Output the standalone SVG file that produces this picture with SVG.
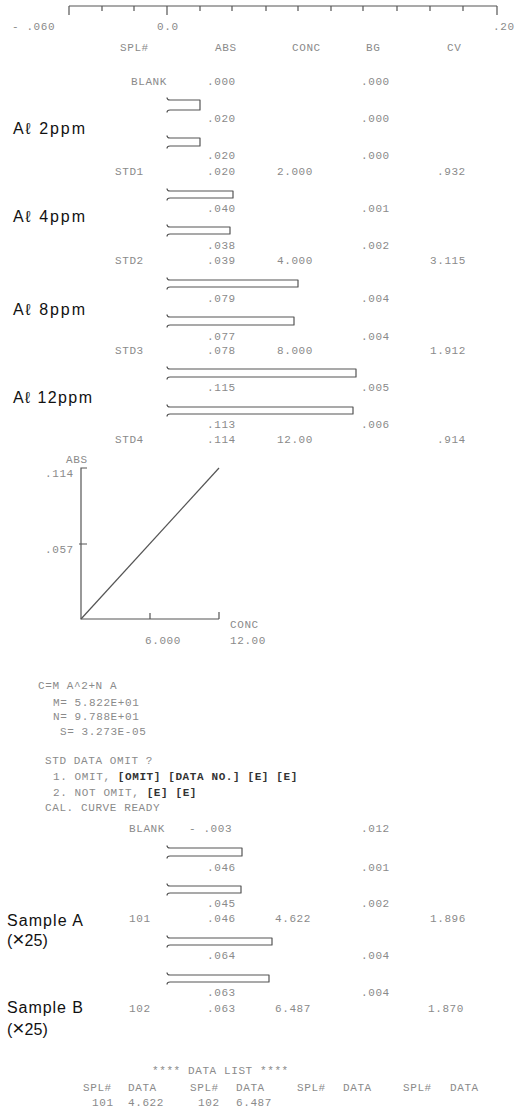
<svg xmlns="http://www.w3.org/2000/svg" width="519" height="1113" viewBox="0 0 519 1113">
<defs>
<style>
.m{font-family:"Liberation Mono","DejaVu Sans Mono",monospace;font-size:11px;letter-spacing:0.6px;fill:#8a8a8a}
.k{fill:#333;font-weight:bold}
.s{font-family:"Liberation Sans",Arial,sans-serif;font-size:16px;fill:#111}
.ln{fill:none;stroke:#555;stroke-width:1.2}
.bar{fill:none;stroke:#555;stroke-width:1.2;stroke-linejoin:round}
</style>
</defs>
<rect width="519" height="1113" fill="#fff"/>
<g id="axis">
<path class="ln" d="M69,6 H497 M69,6 V15 M497,6 V15 M167,6 V15 M102,6 V11 M134,6 V11 M200,6 V11 M232,6 V11 M266,6 V11 M298,6 V11 M331,6 V11 M363,6 V11 M397,6 V11 M430,6 V11 M463,6 V11"/>
<text class="m" x="12" y="30">- .060</text>
<text class="m" x="157" y="30">0.0</text>
<text class="m" x="493" y="30">.20</text>
</g>
<g id="header">
<text class="m" x="120" y="51" letter-spacing="2">SPL#</text>
<text class="m" x="215" y="51">ABS</text>
<text class="m" x="292" y="51">CONC</text>
<text class="m" x="366" y="51">BG</text>
<text class="m" x="447" y="51">CV</text>
</g>
<g id="bars">
<path class="bar" d="M167,97.5 Q167,100 170,100 H200 V110 H170 Q167,110 167,112.5"/>
<path class="bar" d="M167,135.5 Q167,138 170,138 H200 V146 H170 Q167,146 167,148.5"/>
<path class="bar" d="M167,188.5 Q167,191 170,191 H233 V198 H170 Q167,198 167,200.5"/>
<path class="bar" d="M167,224.5 Q167,227 170,227 H230 V234 H170 Q167,234 167,236.5"/>
<path class="bar" d="M167,277.5 Q167,280 170,280 H298 V287 H170 Q167,287 167,289.5"/>
<path class="bar" d="M167,314.5 Q167,317 170,317 H294 V325 H170 Q167,325 167,327.5"/>
<path class="bar" d="M167,366.5 Q167,369 170,369 H356 V377 H170 Q167,377 167,379.5"/>
<path class="bar" d="M167,404.5 Q167,407 170,407 H353 V414 H170 Q167,414 167,416.5"/>
<path class="bar" d="M167,845.5 Q167,848 170,848 H242 V856 H170 Q167,856 167,858.5"/>
<path class="bar" d="M167,883.5 Q167,886 170,886 H241 V893 H170 Q167,893 167,895.5"/>
<path class="bar" d="M167,935.5 Q167,938 170,938 H272 V945 H170 Q167,945 167,947.5"/>
<path class="bar" d="M167,972.5 Q167,975 170,975 H269 V982 H170 Q167,982 167,984.5"/>
</g>
<g id="standards">
<text class="m" x="131" y="85">BLANK</text><text class="m" x="207" y="85">.000</text><text class="m" x="361" y="85">.000</text>
<text class="m" x="207" y="122">.020</text><text class="m" x="361" y="122">.000</text>
<text class="m" x="207" y="159">.020</text><text class="m" x="361" y="159">.000</text>
<text class="m" x="115" y="175">STD1</text><text class="m" x="207" y="175">.020</text><text class="m" x="277" y="175">2.000</text><text class="m" x="437" y="175">.932</text>
<text class="m" x="207" y="212">.040</text><text class="m" x="361" y="212">.001</text>
<text class="m" x="207" y="249">.038</text><text class="m" x="361" y="249">.002</text>
<text class="m" x="115" y="264">STD2</text><text class="m" x="207" y="264">.039</text><text class="m" x="277" y="264">4.000</text><text class="m" x="430" y="264">3.115</text>
<text class="m" x="207" y="302">.079</text><text class="m" x="361" y="302">.004</text>
<text class="m" x="207" y="340">.077</text><text class="m" x="361" y="340">.004</text>
<text class="m" x="115" y="354">STD3</text><text class="m" x="207" y="354">.078</text><text class="m" x="277" y="354">8.000</text><text class="m" x="430" y="354">1.912</text>
<text class="m" x="207" y="391">.115</text><text class="m" x="361" y="391">.005</text>
<text class="m" x="207" y="428">.113</text><text class="m" x="361" y="428">.006</text>
<text class="m" x="115" y="443">STD4</text><text class="m" x="207" y="443">.114</text><text class="m" x="277" y="443">12.00</text><text class="m" x="437" y="443">.914</text>
</g>
<g id="labels">
<text class="s" x="13" y="134" textLength="72">Aℓ 2ppm</text>
<text class="s" x="13" y="222" textLength="72">Aℓ 4ppm</text>
<text class="s" x="13" y="315" textLength="72">Aℓ 8ppm</text>
<text class="s" x="13" y="403" textLength="79">Aℓ 12ppm</text>
<text class="s" x="7" y="926" textLength="76">Sample A</text>
<text class="s" x="7" y="946" font-size="17">(<tspan font-size="21">×</tspan>25)</text>
<text class="s" x="7" y="1013" textLength="76">Sample B</text>
<text class="s" x="7" y="1035" font-size="17">(<tspan font-size="21">×</tspan>25)</text>
</g>
<g id="curve">
<path class="ln" d="M87,468 H81 V619 H219 M79,544 H87 M150,619 V613 M219,619 V612"/>
<path class="ln" d="M81,619 L219,468"/>
<text class="m" x="66" y="463">ABS</text>
<text class="m" x="45" y="477">.114</text>
<text class="m" x="45" y="553">.057</text>
<text class="m" x="230" y="628">CONC</text>
<text class="m" x="145" y="644">6.000</text>
<text class="m" x="230" y="644">12.00</text>
</g>
<g id="fit">
<text class="m" x="38" y="689">C=M A^2+N A</text>
<text class="m" x="53" y="706">M= 5.822E+01</text>
<text class="m" x="53" y="720">N= 9.788E+01</text>
<text class="m" x="60" y="735">S= 3.273E-05</text>
<text class="m" x="45" y="764">STD DATA OMIT ?</text>
<text class="m" x="53" y="780">1. OMIT, <tspan class="k">[OMIT] [DATA NO.] [E] [E]</tspan></text>
<text class="m" x="53" y="796">2. NOT OMIT, <tspan class="k">[E] [E]</tspan></text>
<text class="m" x="45" y="811">CAL. CURVE READY</text>
</g>
<g id="samples">
<text class="m" x="129" y="832">BLANK</text><text class="m" x="189" y="832">- .003</text><text class="m" x="361" y="832">.012</text>
<text class="m" x="207" y="871">.046</text><text class="m" x="361" y="871">.001</text>
<text class="m" x="207" y="907">.045</text><text class="m" x="361" y="907">.002</text>
<text class="m" x="129" y="922">101</text><text class="m" x="207" y="922">.046</text><text class="m" x="275" y="922">4.622</text><text class="m" x="430" y="922">1.896</text>
<text class="m" x="207" y="959">.064</text><text class="m" x="361" y="959">.004</text>
<text class="m" x="207" y="996">.063</text><text class="m" x="361" y="996">.004</text>
<text class="m" x="129" y="1012">102</text><text class="m" x="207" y="1012">.063</text><text class="m" x="275" y="1012">6.487</text><text class="m" x="428" y="1012">1.870</text>
</g>
<g id="datalist">
<text class="m" x="152" y="1074">**** DATA LIST ****</text>
<text class="m" x="83" y="1091">SPL#</text><text class="m" x="128" y="1091">DATA</text>
<text class="m" x="190" y="1091">SPL#</text><text class="m" x="236" y="1091">DATA</text>
<text class="m" x="297" y="1091">SPL#</text><text class="m" x="343" y="1091">DATA</text>
<text class="m" x="403" y="1091">SPL#</text><text class="m" x="450" y="1091">DATA</text>
<text class="m" x="92" y="1106">101</text><text class="m" x="128" y="1106">4.622</text>
<text class="m" x="198" y="1106">102</text><text class="m" x="236" y="1106">6.487</text>
</g>
</svg>
